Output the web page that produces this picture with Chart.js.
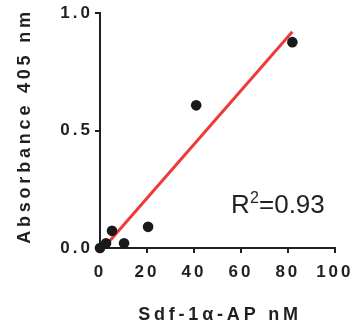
<!DOCTYPE html>
<html>
<head>
<meta charset="utf-8">
<script src="https://cdn.jsdelivr.net/npm/chart.js@4.4.0/dist/chart.umd.min.js"></script>
<style>
	body { margin: 0; background: #fff; }
	canvas { display: block; }
</style>
</head>
<body>
<canvas id="chart" width="358" height="326"></canvas>
<script>
// measured points
var conc = [0, 2.56, 5.12, 10.24, 20.48, 40.96, 81.92];
var absorb = [0.0, 0.02, 0.073, 0.02, 0.09, 0.607, 0.876];
// fit line ends
var fitX = [1.5, 81.9];
var fitY = [0.0, 0.92];
var xTicks = [0, 20, 40, 60, 80, 100];
var yTicks = [0.0, 0.5, 1.0];
var r2Text = "0.93";

var ink = '#231f20';
var fam = '"Liberation Sans", Arial, sans-serif';

var pts = [];
for (var i in conc) {
	pts.push({ x: conc[i], y: absorb[i] });
}
var fit = [];
for (var j in fitX) {
	fit.push({ x: fitX[j], y: fitY[j] });
}

var textPlugin = {
	id: 'texts',
	beforeDraw: function(chart) {
		chart.ctx.letterSpacing = '3px';
	},
	afterDraw: function(chart) {
		var ctx = chart.ctx;
		ctx.save();
		ctx.fillStyle = ink;
		ctx.letterSpacing = '3.8px';
		ctx.font = 'bold 18px ' + fam;
		ctx.textAlign = 'center';
		ctx.textBaseline = 'alphabetic';
		ctx.fillText('Sdf-1\u03b1-AP nM', 220, 320);
		ctx.save();
		ctx.translate(30, 126);
		ctx.rotate(-Math.PI / 2);
		ctx.fillText('Absorbance 405 nm', 0, 0);
		ctx.restore();

		// R squared label
		ctx.letterSpacing = '0px';
		ctx.textAlign = 'left';
		ctx.font = '26px ' + fam;
		ctx.fillText('R', 231, 213);
		ctx.font = '16px ' + fam;
		ctx.fillText('2', 250, 203);
		ctx.font = '26px ' + fam;
		ctx.fillText('=' + r2Text, 259, 213);
		ctx.restore();
	}
};

var ctx = document.getElementById('chart');
var chart = new Chart(ctx, {
	type: 'scatter',
	data: {
		datasets: [
			{
				label: 'data',
				data: pts,
				backgroundColor: '#1a1a1a',
				borderWidth: 0,
				pointRadius: 5.3,
				pointHoverRadius: 5.3,
				clip: false
			},
			{
				label: 'fit',
				type: 'line',
				data: fit,
				borderColor: '#ee3a3a',
				borderWidth: 3,
				pointRadius: 0,
				fill: false,
				clip: false
			}
		]
	},
	options: {
		responsive: false,
		animation: false,
		devicePixelRatio: 1,
		layout: { padding: { top: 13, right: 20, left: 0, bottom: 0 } },
		plugins: {
			legend: { display: false },
			tooltip: { enabled: false }
		},
		scales: {
			x: {
				type: 'linear',
				min: 0,
				max: 100,
				afterBuildTicks: function(scale) {
					scale.ticks = xTicks.map(function(v) { return { value: v }; });
				},
				ticks: {
					color: ink,
					font: { family: fam, size: 17, weight: 'bold' },
					padding: 9,
					maxRotation: 0,
					callback: function(v) { return String(v); }
				},
				grid: {
					drawOnChartArea: false,
					drawTicks: true,
					tickLength: 5,
					color: ink,
					lineWidth: 2
				},
				border: { display: true, color: ink, width: 2 },
				afterFit: function(scale) { scale.height = 78; }
			},
			y: {
				min: 0,
				max: 1,
				afterBuildTicks: function(scale) {
					scale.ticks = yTicks.map(function(v) { return { value: v }; });
				},
				ticks: {
					color: ink,
					font: { family: fam, size: 17, weight: 'bold' },
					padding: 2,
					callback: function(v) { return v.toFixed(1); }
				},
				grid: {
					drawOnChartArea: false,
					drawTicks: true,
					tickLength: 5,
					color: ink,
					lineWidth: 2
				},
				border: { display: true, color: ink, width: 2 },
				afterFit: function(scale) { scale.width = 100; }
			}
		}
	},
	plugins: [textPlugin]
});
</script>
</body>
</html>
